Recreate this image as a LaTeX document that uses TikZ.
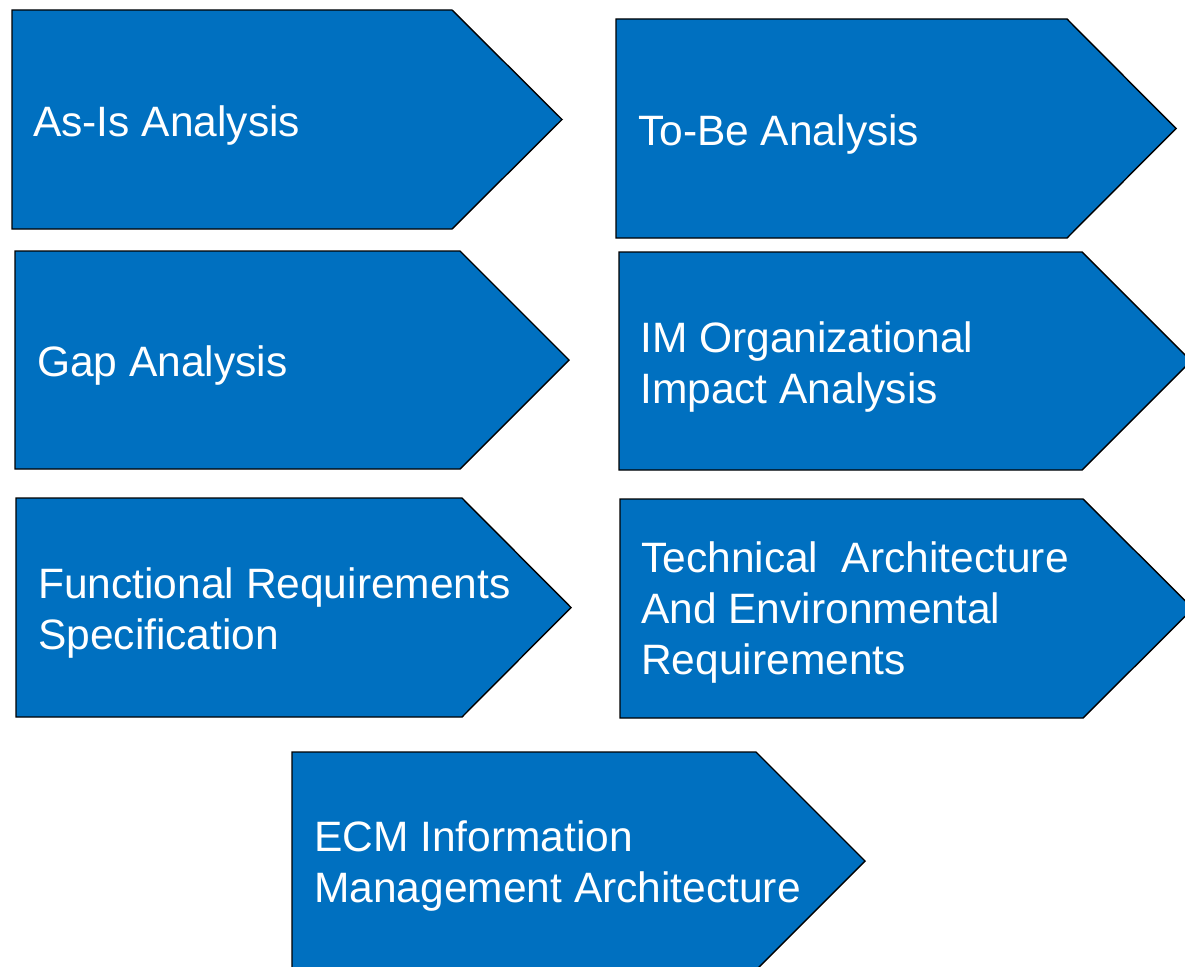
\documentclass[tikz,border=0pt]{standalone}
\usepackage{fontspec}
\setmainfont{Liberation Sans}
\definecolor{chevblue}{RGB}{0,112,192}
\tikzset{
  chev/.style={fill=chevblue, draw=black, line width=1.4pt, line join=miter},
  chevtext/.style={anchor=west, text=white, align=left, inner sep=0pt,
    font=\fontsize{42.5}{51}\selectfont},
}
% #1 left, #2 top, #3 body end, #4 tip x, #5 bottom
\newcommand{\chevron}[5]{%
  \draw[chev] (#1,#2) -- (#3,#2) -- (#4,{(#2+#5)/2}) -- (#3,#5) -- (#1,#5) -- cycle;}
\begin{document}
\begin{tikzpicture}[x=1pt,y=-1pt]
\useasboundingbox (0,0) rectangle (1185,966);
\chevron{12}{10}{452}{562}{229}
\node[chevtext] (asis) at (33,126) {As-Is Analysis};
\chevron{616}{19}{1067}{1176}{238}
\node[chevtext] (tobe) at (638,135) {To-Be Analysis};
\chevron{15}{251}{460}{569}{469}
\node[chevtext] (gap) at (37,366) {Gap Analysis};
\chevron{619}{252}{1082}{1191}{470}
\node[chevtext] (im) at (640,367) {IM Organizational\\Impact Analysis};
\chevron{16}{498}{462}{571}{717}
\node[chevtext] (func) at (38,613) {Functional Requirements\\Specification};
\chevron{620}{499}{1083}{1193}{718}
\node[chevtext] (tech) at (641,613) {Technical\ \ Architecture\\And Environmental\\Requirements};
\chevron{292}{752}{756}{865}{970}
\node[chevtext] (ecm) at (314,866) {ECM Information\\Management Architecture};
\end{tikzpicture}
\end{document}
